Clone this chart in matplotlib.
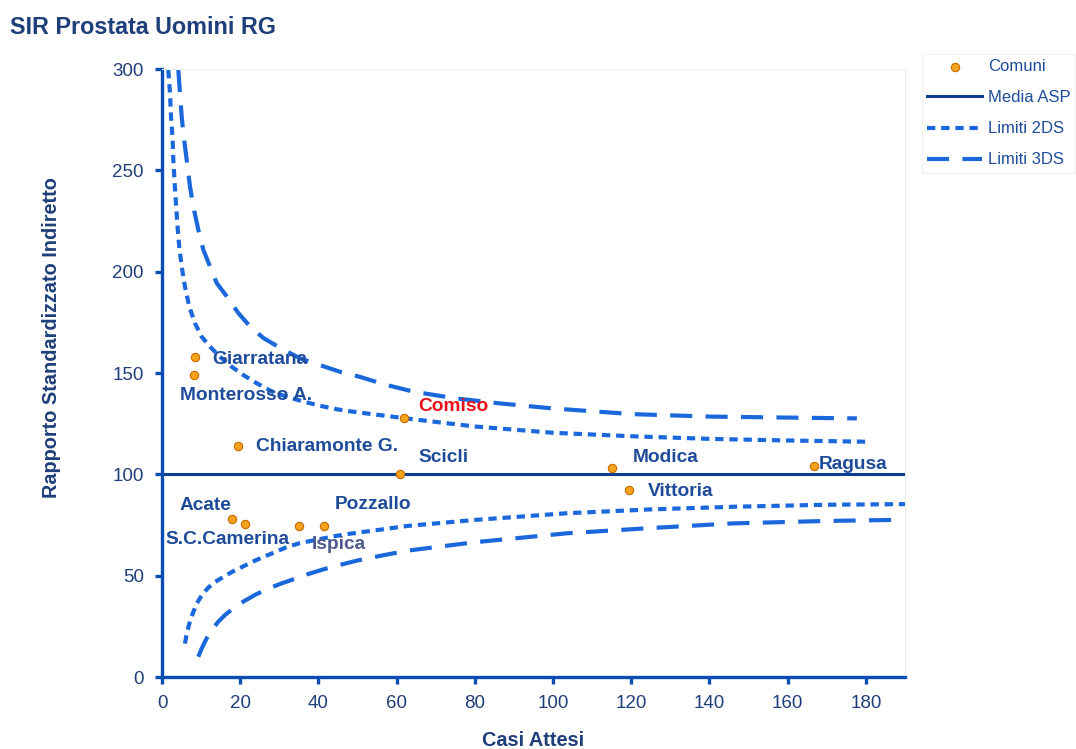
import numpy as np
import matplotlib.pyplot as plt

# Dati: casi attesi (x) e SIR (y) per comune
comuni = ["Giarratana", "Monterosso A.", "Chiaramonte G.", "Comiso", "Scicli", "Modica",
          "Vittoria", "Ragusa", "Acate", "S.C.Camerina", "Pozzallo", "Ispica"]
casi_attesi = [8.4, 8.2, 19.4, 61.9, 60.9, 115.1, 119.4, 166.7, 17.9, 21.2, 41.4, 35.0]
sir = [157.9, 149.0, 114.0, 127.8, 100.1, 103.1, 92.3, 104.1, 78.0, 75.5, 74.5, 74.5]

media_asp = 100

# Limiti di controllo
x_sup2 = [1.61, 2.05, 2.30, 2.73, 2.89, 3.24, 3.58, 3.91, 4.42, 5.04, 5.88, 6.98, 8.44,
          10.15, 12.27, 14.83, 17.82, 20.79, 24.0, 28.0, 32.0, 36.0, 40.0, 45.0, 50.0,
          55.0, 65.0, 80.0, 100.0, 120.0, 140.0, 160.0, 180.0]
y_sup2 = [299.5, 288.0, 276.5, 265.0, 255.0, 243.5, 233.6, 223.7, 212.2, 202.4, 192.6,
          182.7, 174.5, 167.9, 163.0, 158.0, 153.1, 149.0, 145.2, 141.0, 138.2, 136.0,
          134.0, 132.0, 130.6, 129.4, 127.0, 123.6, 120.5, 118.8, 117.5, 116.7, 116.1]
x_sup3 = [4.17, 4.6, 5.04, 5.45, 6.31, 7.16, 8.0, 9.28, 10.56, 12.27, 13.98, 16.55, 19.51,
          22.5, 25.9, 30.2, 35.3, 40.4, 45.5, 50.6, 57.0, 64.3, 75.0, 86.4, 100.0, 120.4,
          140.0, 160.0, 177.7]
y_sup3 = [299.5, 288.0, 276.5, 268.3, 255.2, 242.0, 232.2, 220.7, 210.8, 202.6, 194.4,
          187.8, 179.6, 173.0, 167.3, 162.4, 157.2, 153.9, 150.6, 148.1, 144.3, 140.8,
          137.5, 135.0, 132.5, 129.7, 128.5, 128.0, 127.6]
x_inf2 = [5.88, 6.31, 6.98, 7.85, 8.87, 10.15, 11.84, 13.55, 15.67, 17.82, 20.38, 22.94,
          25.9, 28.89, 31.9, 35.3, 39.55, 43.8, 48.1, 52.3, 57.4, 62.6, 80.0, 103.5, 125.0,
          146.1, 170.0, 190.0]
y_inf2 = [16.5, 21.4, 26.3, 31.3, 36.2, 40.3, 44.1, 46.9, 49.3, 51.8, 54.2, 56.7, 59.2,
          61.6, 64.1, 66.1, 67.7, 69.4, 70.7, 71.8, 73.1, 74.5, 77.5, 80.8, 82.7, 84.0,
          85.0, 85.3]
x_inf3 = [9.28, 10.15, 11.43, 12.71, 14.4, 16.11, 18.23, 20.79, 23.78, 26.77, 30.17, 33.57,
          37.4, 41.24, 45.5, 49.78, 54.03, 58.3, 62.57, 80.0, 103.5, 125.0, 146.1, 170.0,
          187.0]
y_inf3 = [10.0, 14.1, 19.1, 23.2, 27.3, 30.6, 33.9, 37.2, 40.5, 43.3, 45.9, 48.2, 50.8,
          53.1, 55.3, 57.4, 59.1, 60.7, 62.3, 66.5, 70.9, 73.5, 75.8, 77.0, 77.5]

# Spostamento delle etichette rispetto al punto (pixel)
offset_etichette = [(17, -3), (-14, -20), (18, -1), (14, 11), (18, 17), (21, 11),
                    (19, -2), (5, 2), (-52, 13), (-79, -16), (11, 22), (13, -18)]
colore_etichette = ["#1f4c9a"] * 12
colore_etichette[3] = "#e8101a"
colore_etichette[11] = "#4f5b8d"

plt.rcParams['font.family'] = ['Liberation Sans', 'DejaVu Sans']

blu = "#1b68dc"
navy = "#1f3f7a"

fig = plt.figure(figsize=(10.76, 7.49), dpi=100)
ax = fig.add_axes([162 / 1076, 1 - 677 / 749, (905 - 162) / 1076, (677 - 69) / 749])

ax.plot(x_sup2, y_sup2, color=blu, lw=3, dashes=(2.0, 1.4), label="Limiti 2DS")
ax.plot(x_inf2, y_inf2, color=blu, lw=3, dashes=(2.0, 1.4))
ax.plot(x_sup3, y_sup3, color=blu, lw=3, dashes=(5.3, 3.2), label="Limiti 3DS")
ax.plot(x_inf3, y_inf3, color=blu, lw=3, dashes=(5.3, 3.2))
ax.axhline(media_asp, color="#0d3d8f", lw=2.2, label="Media ASP")
ax.scatter(casi_attesi, sir, s=36, color="#f7a21b", edgecolor="#c46a00", linewidth=0.8,
           zorder=5, label="Comuni")

for nome, x, y, off, col in zip(comuni, casi_attesi, sir, offset_etichette, colore_etichette):
    ax.annotate(nome, (x, y), xytext=off, textcoords="offset pixels", ha="left", va="center",
                fontsize=13.8, fontweight="bold", color=col)

ax.set_xlim(0, 190)
ax.set_ylim(0, 300)
ax.set_xticks(np.arange(0, 181, 20))
ax.set_yticks(np.arange(0, 301, 50))

for s in ["left", "bottom"]:
    ax.spines[s].set_color("#0a4db3")
    ax.spines[s].set_linewidth(2.4)
for s in ["top", "right"]:
    ax.spines[s].set_color("#eeeeee")
    ax.spines[s].set_linewidth(0.8)
ax.tick_params(axis="both", colors="#0a4db3", width=2.4, length=5, labelsize=13.5,
               labelcolor=navy, pad=8)

fig.text(533 / 1076, 1 - 740 / 749, "Casi Attesi", fontsize=14.3, fontweight="bold",
         color=navy, ha="center", va="center")
fig.text(52 / 1076, 1 - 338 / 749, "Rapporto Standardizzato Indiretto", rotation=90,
         fontsize=14.3, fontweight="bold", color=navy, ha="center", va="center")
fig.text(10 / 1076, 1 - 27 / 749, "SIR Prostata Uomini RG", fontsize=16.8, fontweight="bold",
         color=navy, ha="left", va="center")

h, l = ax.get_legend_handles_labels()
ordine = ["Comuni", "Media ASP", "Limiti 2DS", "Limiti 3DS"]
h = [h[l.index(o)] for o in ordine]
leg = fig.legend(h, ordine, loc="upper left", bbox_to_anchor=(922 / 1076, 1 - 54 / 749),
                 fontsize=12, handlelength=3.3, handletextpad=0.35, labelspacing=0.97,
                 frameon=True, fancybox=False, edgecolor="#f0f0f0", borderpad=0.3,
                 borderaxespad=0)
for t in leg.get_texts():
    t.set_color("#1f4c9a")

fig.savefig("out.png", dpi=100)
